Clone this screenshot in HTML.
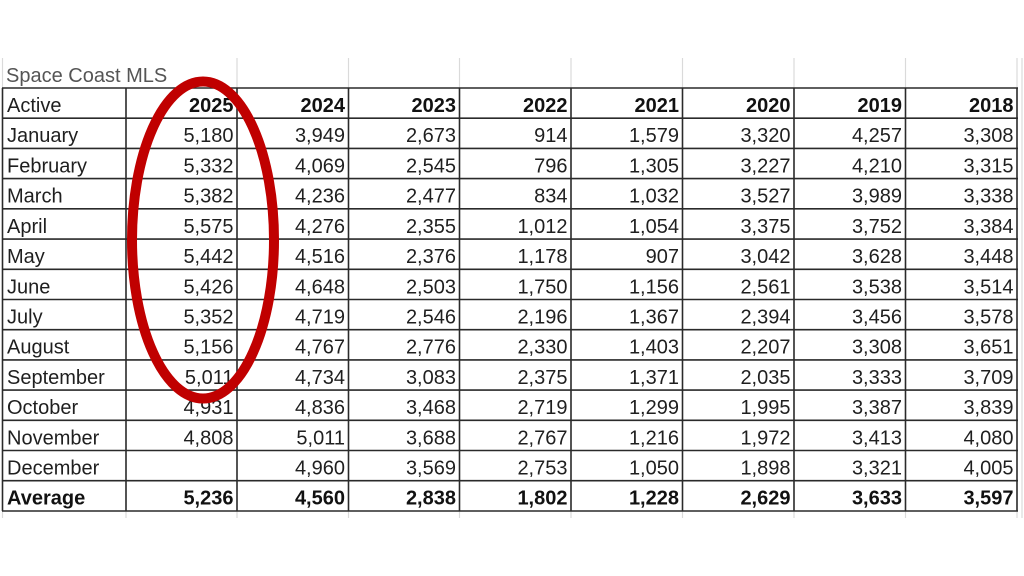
<!DOCTYPE html>
<html>
<head>
<meta charset="utf-8">
<style>
  html,body{margin:0;padding:0;background:#fff;}
  body{width:1024px;height:576px;overflow:hidden;}
  svg{display:block;}
  text{font-family:"Liberation Sans", Arial, sans-serif;font-size:20px;fill:#1f1f1f;}
  .b{font-weight:bold;fill:#111;}
  .r{text-anchor:end;}
  .t{fill:#555;}
</style>
</head>
<body>
<svg width="1024" height="576" viewBox="0 0 1024 576" xmlns="http://www.w3.org/2000/svg">
  <rect width="1024" height="576" fill="#fff"/>
  <g stroke="#dadada" stroke-width="1.2">
    <line x1="2.5" y1="58" x2="2.5" y2="88"/>
    <line x1="237" y1="58" x2="237" y2="88"/>
    <line x1="348.5" y1="58" x2="348.5" y2="88"/>
    <line x1="459.5" y1="58" x2="459.5" y2="88"/>
    <line x1="571" y1="58" x2="571" y2="88"/>
    <line x1="682.5" y1="58" x2="682.5" y2="88"/>
    <line x1="794" y1="58" x2="794" y2="88"/>
    <line x1="905.5" y1="58" x2="905.5" y2="88"/>
    <line x1="1017" y1="58" x2="1017" y2="88"/>
    <line x1="2.5" y1="511" x2="2.5" y2="518"/>
    <line x1="126" y1="511" x2="126" y2="518"/>
    <line x1="237" y1="511" x2="237" y2="518"/>
    <line x1="348.5" y1="511" x2="348.5" y2="518"/>
    <line x1="459.5" y1="511" x2="459.5" y2="518"/>
    <line x1="571" y1="511" x2="571" y2="518"/>
    <line x1="682.5" y1="511" x2="682.5" y2="518"/>
    <line x1="794" y1="511" x2="794" y2="518"/>
    <line x1="905.5" y1="511" x2="905.5" y2="518"/>
    <line x1="1017" y1="511" x2="1017" y2="518"/>
    <line x1="1022" y1="58" x2="1022" y2="518"/>
  </g>
  <g stroke="#2a2a2a" stroke-width="1.6">
    <line x1="2.5" y1="88" x2="2.5" y2="511"/>
    <line x1="126" y1="88" x2="126" y2="511"/>
    <line x1="237" y1="88" x2="237" y2="511"/>
    <line x1="348.5" y1="88" x2="348.5" y2="511"/>
    <line x1="459.5" y1="88" x2="459.5" y2="511"/>
    <line x1="571" y1="88" x2="571" y2="511"/>
    <line x1="682.5" y1="88" x2="682.5" y2="511"/>
    <line x1="794" y1="88" x2="794" y2="511"/>
    <line x1="905.5" y1="88" x2="905.5" y2="511"/>
    <line x1="1017" y1="88" x2="1017" y2="511"/>
    <line x1="2" y1="88" x2="1018" y2="88"/>
    <line x1="2" y1="118.2" x2="1018" y2="118.2"/>
    <line x1="2" y1="148.4" x2="1018" y2="148.4"/>
    <line x1="2" y1="178.6" x2="1018" y2="178.6"/>
    <line x1="2" y1="208.8" x2="1018" y2="208.8"/>
    <line x1="2" y1="239.1" x2="1018" y2="239.1"/>
    <line x1="2" y1="269.3" x2="1018" y2="269.3"/>
    <line x1="2" y1="299.5" x2="1018" y2="299.5"/>
    <line x1="2" y1="329.7" x2="1018" y2="329.7"/>
    <line x1="2" y1="359.9" x2="1018" y2="359.9"/>
    <line x1="2" y1="390.1" x2="1018" y2="390.1"/>
    <line x1="2" y1="420.3" x2="1018" y2="420.3"/>
    <line x1="2" y1="450.5" x2="1018" y2="450.5"/>
    <line x1="2" y1="480.7" x2="1018" y2="480.7"/>
    <line x1="2" y1="511" x2="1018" y2="511"/>
  </g>

  <text class="t" x="6" y="82">Space Coast MLS</text>

  <g>
    <text x="7" y="112">Active</text>
    <text class="b r" x="233.5" y="112">2025</text>
    <text class="b r" x="345" y="112">2024</text>
    <text class="b r" x="456" y="112">2023</text>
    <text class="b r" x="567.5" y="112">2022</text>
    <text class="b r" x="679" y="112">2021</text>
    <text class="b r" x="790.5" y="112">2020</text>
    <text class="b r" x="902" y="112">2019</text>
    <text class="b r" x="1013.5" y="112">2018</text>
  </g>

  <g class="rows">
    <text x="7" y="142.2">January</text>
    <text class="r" x="233.5" y="142.2">5,180</text>
    <text class="r" x="345" y="142.2">3,949</text>
    <text class="r" x="456" y="142.2">2,673</text>
    <text class="r" x="567.5" y="142.2">914</text>
    <text class="r" x="679" y="142.2">1,579</text>
    <text class="r" x="790.5" y="142.2">3,320</text>
    <text class="r" x="902" y="142.2">4,257</text>
    <text class="r" x="1013.5" y="142.2">3,308</text>

    <text x="7" y="172.4">February</text>
    <text class="r" x="233.5" y="172.4">5,332</text>
    <text class="r" x="345" y="172.4">4,069</text>
    <text class="r" x="456" y="172.4">2,545</text>
    <text class="r" x="567.5" y="172.4">796</text>
    <text class="r" x="679" y="172.4">1,305</text>
    <text class="r" x="790.5" y="172.4">3,227</text>
    <text class="r" x="902" y="172.4">4,210</text>
    <text class="r" x="1013.5" y="172.4">3,315</text>

    <text x="7" y="202.6">March</text>
    <text class="r" x="233.5" y="202.6">5,382</text>
    <text class="r" x="345" y="202.6">4,236</text>
    <text class="r" x="456" y="202.6">2,477</text>
    <text class="r" x="567.5" y="202.6">834</text>
    <text class="r" x="679" y="202.6">1,032</text>
    <text class="r" x="790.5" y="202.6">3,527</text>
    <text class="r" x="902" y="202.6">3,989</text>
    <text class="r" x="1013.5" y="202.6">3,338</text>

    <text x="7" y="232.8">April</text>
    <text class="r" x="233.5" y="232.8">5,575</text>
    <text class="r" x="345" y="232.8">4,276</text>
    <text class="r" x="456" y="232.8">2,355</text>
    <text class="r" x="567.5" y="232.8">1,012</text>
    <text class="r" x="679" y="232.8">1,054</text>
    <text class="r" x="790.5" y="232.8">3,375</text>
    <text class="r" x="902" y="232.8">3,752</text>
    <text class="r" x="1013.5" y="232.8">3,384</text>

    <text x="7" y="263.1">May</text>
    <text class="r" x="233.5" y="263.1">5,442</text>
    <text class="r" x="345" y="263.1">4,516</text>
    <text class="r" x="456" y="263.1">2,376</text>
    <text class="r" x="567.5" y="263.1">1,178</text>
    <text class="r" x="679" y="263.1">907</text>
    <text class="r" x="790.5" y="263.1">3,042</text>
    <text class="r" x="902" y="263.1">3,628</text>
    <text class="r" x="1013.5" y="263.1">3,448</text>

    <text x="7" y="293.3">June</text>
    <text class="r" x="233.5" y="293.3">5,426</text>
    <text class="r" x="345" y="293.3">4,648</text>
    <text class="r" x="456" y="293.3">2,503</text>
    <text class="r" x="567.5" y="293.3">1,750</text>
    <text class="r" x="679" y="293.3">1,156</text>
    <text class="r" x="790.5" y="293.3">2,561</text>
    <text class="r" x="902" y="293.3">3,538</text>
    <text class="r" x="1013.5" y="293.3">3,514</text>

    <text x="7" y="323.5">July</text>
    <text class="r" x="233.5" y="323.5">5,352</text>
    <text class="r" x="345" y="323.5">4,719</text>
    <text class="r" x="456" y="323.5">2,546</text>
    <text class="r" x="567.5" y="323.5">2,196</text>
    <text class="r" x="679" y="323.5">1,367</text>
    <text class="r" x="790.5" y="323.5">2,394</text>
    <text class="r" x="902" y="323.5">3,456</text>
    <text class="r" x="1013.5" y="323.5">3,578</text>

    <text x="7" y="353.7">August</text>
    <text class="r" x="233.5" y="353.7">5,156</text>
    <text class="r" x="345" y="353.7">4,767</text>
    <text class="r" x="456" y="353.7">2,776</text>
    <text class="r" x="567.5" y="353.7">2,330</text>
    <text class="r" x="679" y="353.7">1,403</text>
    <text class="r" x="790.5" y="353.7">2,207</text>
    <text class="r" x="902" y="353.7">3,308</text>
    <text class="r" x="1013.5" y="353.7">3,651</text>

    <text x="7" y="383.9">September</text>
    <text class="r" x="233.5" y="383.9">5,011</text>
    <text class="r" x="345" y="383.9">4,734</text>
    <text class="r" x="456" y="383.9">3,083</text>
    <text class="r" x="567.5" y="383.9">2,375</text>
    <text class="r" x="679" y="383.9">1,371</text>
    <text class="r" x="790.5" y="383.9">2,035</text>
    <text class="r" x="902" y="383.9">3,333</text>
    <text class="r" x="1013.5" y="383.9">3,709</text>

    <text x="7" y="414.1">October</text>
    <text class="r" x="233.5" y="414.1">4,931</text>
    <text class="r" x="345" y="414.1">4,836</text>
    <text class="r" x="456" y="414.1">3,468</text>
    <text class="r" x="567.5" y="414.1">2,719</text>
    <text class="r" x="679" y="414.1">1,299</text>
    <text class="r" x="790.5" y="414.1">1,995</text>
    <text class="r" x="902" y="414.1">3,387</text>
    <text class="r" x="1013.5" y="414.1">3,839</text>

    <text x="7" y="444.3">November</text>
    <text class="r" x="233.5" y="444.3">4,808</text>
    <text class="r" x="345" y="444.3">5,011</text>
    <text class="r" x="456" y="444.3">3,688</text>
    <text class="r" x="567.5" y="444.3">2,767</text>
    <text class="r" x="679" y="444.3">1,216</text>
    <text class="r" x="790.5" y="444.3">1,972</text>
    <text class="r" x="902" y="444.3">3,413</text>
    <text class="r" x="1013.5" y="444.3">4,080</text>

    <text x="7" y="474.5">December</text>
    <text class="r" x="345" y="474.5">4,960</text>
    <text class="r" x="456" y="474.5">3,569</text>
    <text class="r" x="567.5" y="474.5">2,753</text>
    <text class="r" x="679" y="474.5">1,050</text>
    <text class="r" x="790.5" y="474.5">1,898</text>
    <text class="r" x="902" y="474.5">3,321</text>
    <text class="r" x="1013.5" y="474.5">4,005</text>

    <text class="b" x="7" y="504.7">Average</text>
    <text class="b r" x="233.5" y="504.7">5,236</text>
    <text class="b r" x="345" y="504.7">4,560</text>
    <text class="b r" x="456" y="504.7">2,838</text>
    <text class="b r" x="567.5" y="504.7">1,802</text>
    <text class="b r" x="679" y="504.7">1,228</text>
    <text class="b r" x="790.5" y="504.7">2,629</text>
    <text class="b r" x="902" y="504.7">3,633</text>
    <text class="b r" x="1013.5" y="504.7">3,597</text>
  </g>

  <ellipse cx="203" cy="240" rx="71" ry="158.5" fill="none" stroke="#c00000" stroke-width="10"/>
</svg>
</body>
</html>
